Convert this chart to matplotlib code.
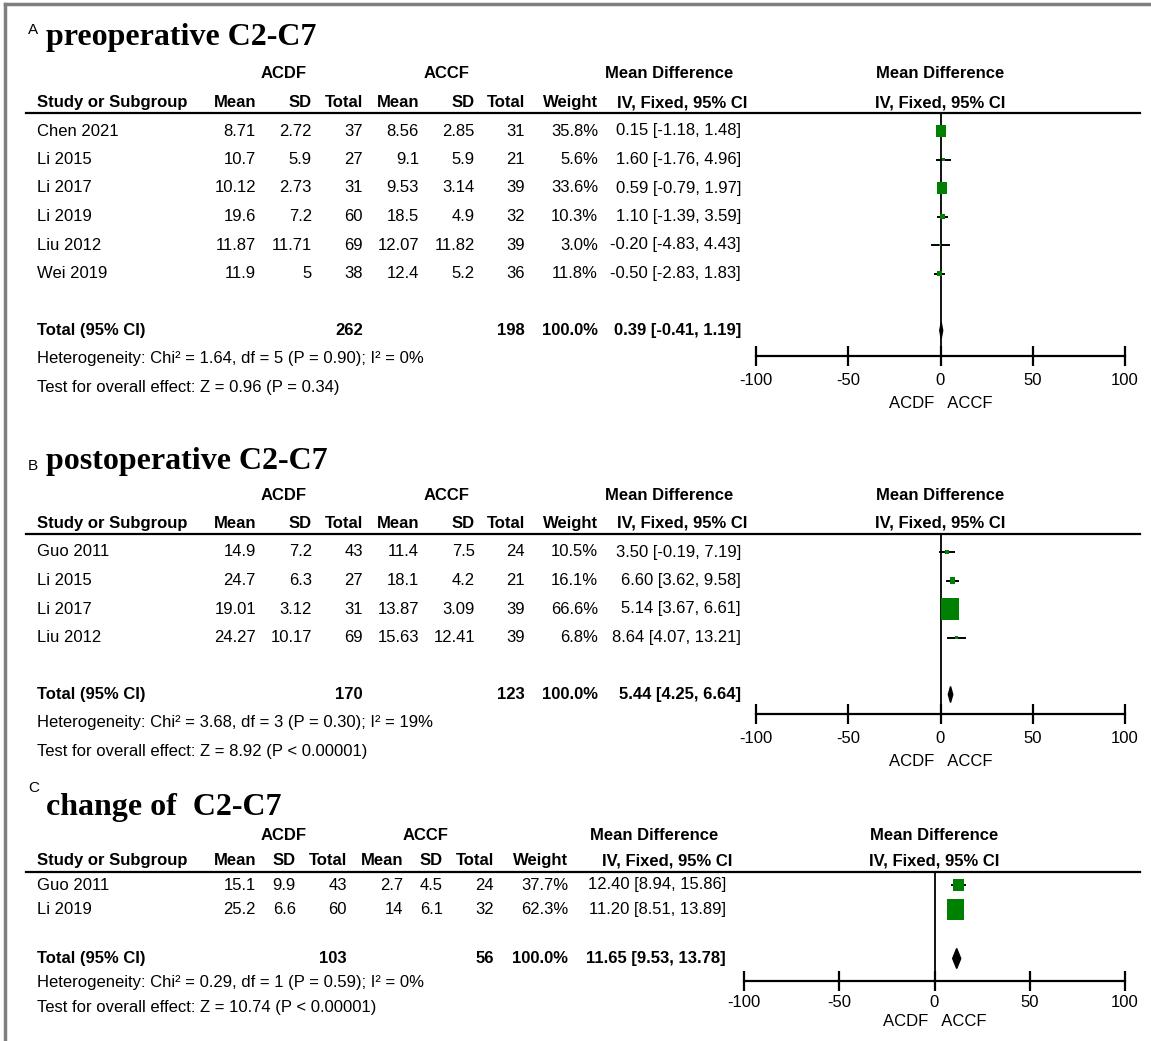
import matplotlib.pyplot as plt
from matplotlib.patches import Rectangle, Polygon

plt.rcParams['axes.unicode_minus'] = False

W, H = 1151, 1041
SANS = ['Liberation Sans', 'DejaVu Sans']
SERIF = ['Liberation Serif', 'DejaVu Serif']
GREEN = '#008000'

# ---------------- data ----------------
# A  preoperative C2-C7
studies_a = ['Chen 2021', 'Li 2015', 'Li 2017', 'Li 2019', 'Liu 2012', 'Wei 2019']
acdf_mean_a = ['8.71', '10.7', '10.12', '19.6', '11.87', '11.9']
acdf_sd_a = ['2.72', '5.9', '2.73', '7.2', '11.71', '5']
acdf_n_a = [37, 27, 31, 60, 69, 38]
accf_mean_a = ['8.56', '9.1', '9.53', '18.5', '12.07', '12.4']
accf_sd_a = ['2.85', '5.9', '3.14', '4.9', '11.82', '5.2']
accf_n_a = [31, 21, 39, 32, 39, 36]
weight_a = [35.8, 5.6, 33.6, 10.3, 3.0, 11.8]
md_a = [0.15, 1.60, 0.59, 1.10, -0.20, -0.50]
lo_a = [-1.18, -1.76, -0.79, -1.39, -4.83, -2.83]
hi_a = [1.48, 4.96, 1.97, 3.59, 4.43, 1.83]
total_a = (262, 198, 0.39, -0.41, 1.19)
het_a = 'Heterogeneity: Chi² = 1.64, df = 5 (P = 0.90); I² = 0%'
test_a = 'Test for overall effect: Z = 0.96 (P = 0.34)'

# B  postoperative C2-C7
studies_b = ['Guo 2011', 'Li 2015', 'Li 2017', 'Liu 2012']
acdf_mean_b = ['14.9', '24.7', '19.01', '24.27']
acdf_sd_b = ['7.2', '6.3', '3.12', '10.17']
acdf_n_b = [43, 27, 31, 69]
accf_mean_b = ['11.4', '18.1', '13.87', '15.63']
accf_sd_b = ['7.5', '4.2', '3.09', '12.41']
accf_n_b = [24, 21, 39, 39]
weight_b = [10.5, 16.1, 66.6, 6.8]
md_b = [3.50, 6.60, 5.14, 8.64]
lo_b = [-0.19, 3.62, 3.67, 4.07]
hi_b = [7.19, 9.58, 6.61, 13.21]
total_b = (170, 123, 5.44, 4.25, 6.64)
het_b = 'Heterogeneity: Chi² = 3.68, df = 3 (P = 0.30); I² = 19%'
test_b = 'Test for overall effect: Z = 8.92 (P < 0.00001)'

# C  change of C2-C7
studies_c = ['Guo 2011', 'Li 2019']
acdf_mean_c = ['15.1', '25.2']
acdf_sd_c = ['9.9', '6.6']
acdf_n_c = [43, 60]
accf_mean_c = ['2.7', '14']
accf_sd_c = ['4.5', '6.1']
accf_n_c = [24, 32]
weight_c = [37.7, 62.3]
md_c = [12.40, 11.20]
lo_c = [8.94, 8.51]
hi_c = [15.86, 13.89]
total_c = (103, 56, 11.65, 9.53, 13.78)
het_c = 'Heterogeneity: Chi² = 0.29, df = 1 (P = 0.59); I² = 0%'
test_c = 'Test for overall effect: Z = 10.74 (P < 0.00001)'

ticks = [-100, -50, 0, 50, 100]

fig = plt.figure(figsize=(W / 100, H / 100), dpi=100)
bg = fig.add_axes([0, 0, 1, 1])
bg.set_xlim(0, W)
bg.set_ylim(H, 0)
bg.axis('off')

# grey frame (top and left)
bg.plot([5, W], [4, 4], color='#7f7f7f', lw=2.5)
bg.plot([5, 5], [4, H], color='#7f7f7f', lw=2.5)


def txt(x, y, s, ha='left', bold=False, size=12):
    bg.text(x, y, s, ha=ha, va='center', fontsize=size,
            fontweight='bold' if bold else 'normal', family=SANS)


def panel(letter, title, lay, cols, data):
    (studies, m1, s1, n1, m2, s2, n2, wts, md, lo, hi, tot, het, test) = data
    bg.text(28, lay['letter'], letter, ha='left', va='center',
            fontsize=11, family=SANS)
    bg.text(46, lay['title'], title, ha='left', va='center', fontsize=23,
            fontweight='bold', family=SERIF)

    c_mean1, c_sd1, c_n1, c_mean2, c_sd2, c_n2, c_w, c_md = cols
    y1, y2 = lay['h1'], lay['h2']
    txt(lay['acdf_x'], y1, 'ACDF', 'center', True)
    txt(lay['accf_x'], y1, 'ACCF', 'center', True)
    txt(c_md - 8, y1, 'Mean Difference', 'right', True)
    txt(lay['x0'], y1, 'Mean Difference', 'center', True)
    txt(37, y2, 'Study or Subgroup', 'left', True)
    for x, s in zip(cols[:7], ['Mean', 'SD', 'Total', 'Mean', 'SD', 'Total', 'Weight']):
        txt(x, y2, s, 'right', True)
    txt(c_md + 6, y2, 'IV, Fixed, 95% CI', 'right', True)
    txt(lay['x0'], y2, 'IV, Fixed, 95% CI', 'center', True)
    bg.plot([26, 1140], [lay['line'], lay['line']], color='black', lw=1.6)

    for i, y in enumerate(lay['rows']):
        txt(37, y, studies[i])
        txt(c_mean1, y, m1[i], 'right')
        txt(c_sd1, y, s1[i], 'right')
        txt(c_n1, y, str(n1[i]), 'right')
        txt(c_mean2, y, m2[i], 'right')
        txt(c_sd2, y, s2[i], 'right')
        txt(c_n2, y, str(n2[i]), 'right')
        txt(c_w, y, f'{wts[i]:.1f}%', 'right')
        txt(c_md, y, f'{md[i]:.2f} [{lo[i]:.2f}, {hi[i]:.2f}]', 'right')

    yt = lay['total']
    txt(37, yt, 'Total (95% CI)', 'left', True)
    txt(c_n1, yt, str(tot[0]), 'right', True)
    txt(c_n2, yt, str(tot[1]), 'right', True)
    txt(c_w, yt, '100.0%', 'right', True)
    txt(c_md, yt, f'{tot[2]:.2f} [{tot[3]:.2f}, {tot[4]:.2f}]', 'right', True)
    txt(37, lay['het'], het)
    txt(37, lay['test'], test)

    # forest plot
    xl, xr = lay['xrange']
    ytop, yax = lay['line'], lay['axis']
    fa = fig.add_axes([xl / W, 1 - yax / H, (xr - xl) / W, (yax - ytop) / H])
    fa.set_xlim(-100, 100)
    fa.set_ylim(yax, ytop)
    fa.patch.set_alpha(0)
    for s in ['top', 'left', 'right']:
        fa.spines[s].set_visible(False)
    fa.spines['bottom'].set_linewidth(1.6)
    fa.set_yticks([])
    fa.set_xticks(ticks)
    fa.set_xticklabels([str(t) for t in ticks], family=SANS)
    fa.tick_params(axis='x', direction='inout', length=14, width=1.6,
                   labelsize=12, pad=lay['pad'])
    fa.axvline(0, color='black', lw=1.3)
    txt(lay['x0'], yax + lay['lab'], 'ACDF   ACCF', 'center')
    u = 200 / (xr - xl)  # data units per pixel
    for i, y in enumerate(lay['rows']):
        fa.plot([lo[i], hi[i]], [y, y], color='black', lw=1.4, zorder=2)
        bw = 1.5 + 0.25 * wts[i]
        bh = 1.5 + 0.30 * wts[i]
        fa.add_patch(Rectangle((md[i] - bw * u / 2, y - bh / 2), bw * u, bh,
                               facecolor=GREEN, edgecolor='none', zorder=3))
    dh = lay['dia']
    fa.add_patch(Polygon([(tot[3], yt), (tot[2], yt - dh / 2), (tot[4], yt),
                          (tot[2], yt + dh / 2)], closed=True,
                         facecolor='black', edgecolor='black', lw=1, zorder=3))


cols_ab = [256, 312, 363, 419, 475, 525, 598, 741]
cols_c = [256, 296, 347, 403, 443, 494, 568, 726]


def rows_from(first, n, s):
    return [first + i * s for i in range(n)]


# row pitch of the RevMan tables (px)
sa, sc = 28.5, 24.5

lay_a = dict(letter=30, title=37, h1=131 - 2 * sa, h2=131 - sa, line=113,
             rows=rows_from(131, 6, sa), total=131 + 7 * sa, het=131 + 8 * sa,
             test=131 + 9 * sa, axis=356, pad=5, lab=48,
             xrange=(756, 1125), x0=940.5, acdf_x=284, accf_x=447, dia=16)
lay_b = dict(letter=466, title=461, h1=552 - 2 * sa, h2=552 - sa, line=534,
             rows=rows_from(552, 4, sa), total=552 + 5 * sa, het=552 + 6 * sa,
             test=552 + 7 * sa, axis=714, pad=5, lab=48,
             xrange=(756, 1125), x0=940.5, acdf_x=284, accf_x=447, dia=16)
lay_c = dict(letter=788, title=807, h1=885 - 2 * sc, h2=885 - sc, line=872,
             rows=rows_from(885, 2, sc), total=885 + 3 * sc, het=885 + 4 * sc,
             test=885 + 5 * sc, axis=981, pad=3, lab=41,
             xrange=(744, 1125), x0=934.5, acdf_x=284, accf_x=426, dia=20)

panel('A', 'preoperative C2-C7', lay_a, cols_ab,
      (studies_a, acdf_mean_a, acdf_sd_a, acdf_n_a, accf_mean_a, accf_sd_a,
       accf_n_a, weight_a, md_a, lo_a, hi_a, total_a, het_a, test_a))
panel('B', 'postoperative C2-C7', lay_b, cols_ab,
      (studies_b, acdf_mean_b, acdf_sd_b, acdf_n_b, accf_mean_b, accf_sd_b,
       accf_n_b, weight_b, md_b, lo_b, hi_b, total_b, het_b, test_b))
panel('C', 'change of  C2-C7', lay_c, cols_c,
      (studies_c, acdf_mean_c, acdf_sd_c, acdf_n_c, accf_mean_c, accf_sd_c,
       accf_n_c, weight_c, md_c, lo_c, hi_c, total_c, het_c, test_c))

fig.savefig('out.png', dpi=100, facecolor='white')
